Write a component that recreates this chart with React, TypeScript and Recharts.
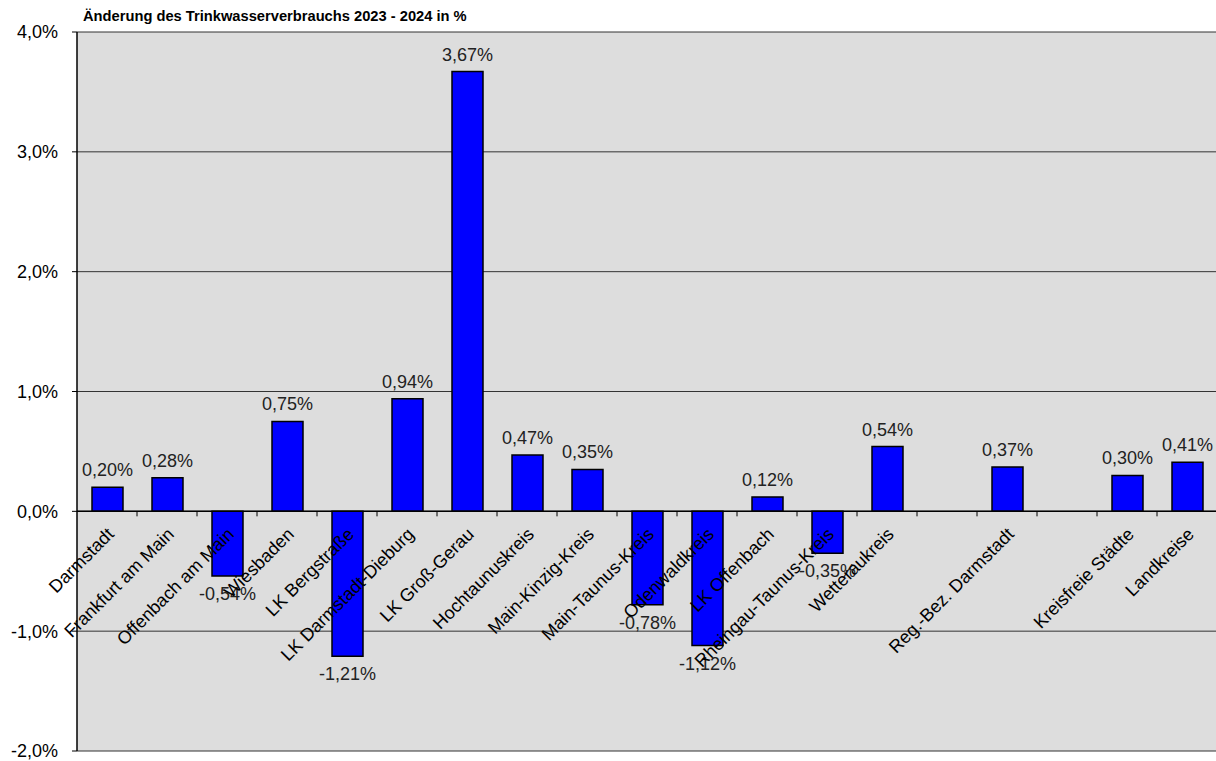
import React from "react";
import { BarChart, Bar, XAxis, YAxis, CartesianGrid, ReferenceLine, LabelList } from "recharts";

// Landkreise / Städte (leere Einträge = Abstand im Diagramm)
const categories = [
  "Darmstadt",
  "Frankfurt am Main",
  "Offenbach am Main",
  "Wiesbaden",
  "LK Bergstraße",
  "LK Darmstadt-Dieburg",
  "LK Groß-Gerau",
  "Hochtaunuskreis",
  "Main-Kinzig-Kreis",
  "Main-Taunus-Kreis",
  "Odenwaldkreis",
  "LK Offenbach",
  "Rheingau-Taunus-Kreis",
  "Wetteraukreis",
  "",
  "Reg.-Bez. Darmstadt",
  "",
  "Kreisfreie Städte",
  "Landkreise",
];

// Änderung in %
const changes: (number | null)[] = [
  0.2, 0.28, -0.54, 0.75, -1.21, 0.94, 3.67, 0.47, 0.35, -0.78, -1.12, 0.12, -0.35, 0.54,
  null, 0.37, null, 0.3, 0.41,
];

const yTicks = [-2, -1, 0, 1, 2, 3, 4];

const data = categories.map((name, i) => ({ name, value: changes[i] }));

const W = 1217;
const H = 761;
const M = { top: 32, right: 0, bottom: 9, left: 17 };
const Y_AXIS_W = 60;
const X_AXIS_H = 1;
const Y_MIN = -2;
const Y_MAX = 4;
const PLOT_TOP = M.top;
const PLOT_BOTTOM = H - M.bottom - X_AXIS_H;
const ZERO_Y = PLOT_TOP + (Y_MAX / (Y_MAX - Y_MIN)) * (PLOT_BOTTOM - PLOT_TOP);
const SLOT = (W - M.left - Y_AXIS_W - M.right) / categories.length;

const FONT = "'Liberation Sans', Arial, sans-serif";
const FS = 18;

const pct = (v: number, d: number) => v.toFixed(d).replace(".", ",") + "%";

function CatTick(props: any) {
  const { x, payload } = props;
  const lx = x + 8;
  const ly = ZERO_Y + 24;
  return (
    <g>
      <line x1={x + SLOT / 2} x2={x + SLOT / 2} y1={ZERO_Y} y2={ZERO_Y + 5} stroke="#000" />
      {payload.value ? (
        <text
          x={lx}
          y={ly}
          textAnchor="end"
          transform={`rotate(-45 ${lx} ${ly})`}
          fontSize={FS}
          fontFamily={FONT}
          fill="#000"
        >
          {payload.value}
        </text>
      ) : null}
    </g>
  );
}

function ValueLabel(props: any) {
  const { value } = props;
  if (value == null) return null;
  const x = Number(props.x);
  const y = Number(props.y);
  const w = Number(props.width);
  const h = Number(props.height);
  const top = Math.min(y, y + h);
  const bottom = Math.max(y, y + h);
  const ty = value >= 0 ? top - 11 : bottom + 24;
  return (
    <text x={x + w / 2} y={ty} textAnchor="middle" fontSize={FS} fontFamily={FONT} fill="#222">
      {pct(value, 2)}
    </text>
  );
}

export default function App() {
  return (
    <div
      style={{
        position: "absolute",
        left: 0,
        top: 0,
        width: 1216,
        height: 761,
        overflow: "hidden",
        background: "#fff",
        fontFamily: FONT,
      }}
    >
      <div
        style={{
          position: "absolute",
          left: 83,
          top: 8,
          fontSize: 14.7,
          lineHeight: "17px",
          fontWeight: "bold",
          color: "#000",
          whiteSpace: "nowrap",
        }}
      >
        Änderung des Trinkwasserverbrauchs 2023 - 2024 in %
      </div>
      <BarChart width={W} height={H} data={data} margin={M} barCategoryGap={0}>
        <CartesianGrid horizontal vertical={false} fill="#DDDDDD" stroke="#333" strokeOpacity={1} />
        <YAxis
          width={Y_AXIS_W}
          domain={[Y_MIN, Y_MAX]}
          ticks={yTicks}
          interval={0}
          tickFormatter={(v: number) => pct(v, 1)}
          tick={{ fontSize: FS, fill: "#000", fontFamily: FONT }}
          axisLine={{ stroke: "#000", strokeWidth: 1.5 }}
          tickLine={{ stroke: "#000" }}
          tickSize={5}
          tickMargin={14}
        />
        <Bar dataKey="value" fill="#0000FF" stroke="#000" strokeWidth={1.5} barSize={31} isAnimationActive={false}>
          <LabelList dataKey="value" content={ValueLabel} />
        </Bar>
        <ReferenceLine y={0} stroke="#000" strokeWidth={1.5} />
        <XAxis
          dataKey="name"
          height={X_AXIS_H}
          interval={0}
          axisLine={false}
          tickLine={false}
          tick={CatTick}
        />
      </BarChart>
    </div>
  );
}
